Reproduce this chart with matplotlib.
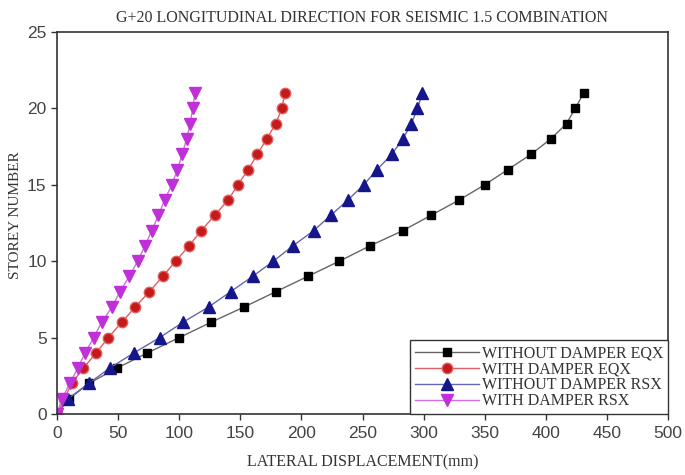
import matplotlib
matplotlib.use("Agg")
import matplotlib.pyplot as plt

storeys = list(range(0, 22))

# lateral displacement (mm) at each storey, 0..21
without_damper_eqx = [0, 10, 26, 49, 74, 100, 126, 153, 179, 205, 231, 256, 283, 306,
                      329, 350, 369, 388, 404, 417, 424, 431]
with_damper_eqx = [0, 6, 12, 21.5, 32, 42, 53, 64, 75.5, 86.5, 97, 108, 118, 129,
                   140, 148, 156.5, 164, 171.5, 179, 184, 186.5]
without_damper_rsx = [0, 9, 26, 43, 63, 84, 103, 124, 142, 160, 177, 193, 210, 224,
                      238, 251, 262, 274, 283, 290, 295, 299]
with_damper_rsx = [0, 4, 10.5, 17, 23, 30, 36.5, 45, 51.5, 59, 66, 72, 77.5, 83,
                   88, 94, 98.5, 102.5, 106, 109, 111, 113]

x_ticks = [0, 50, 100, 150, 200, 250, 300, 350, 400, 450, 500]
y_ticks = [0, 5, 10, 15, 20, 25]

serif = ['Liberation Serif', 'DejaVu Serif']
sans = ['Liberation Sans', 'DejaVu Sans']

fig = plt.figure(figsize=(6.85, 4.75), dpi=100)
ax = fig.add_axes([57 / 685, 1 - 414 / 475, (668 - 57) / 685, (414 - 32) / 475])

ax.plot(without_damper_eqx, storeys, '-s', color='#666666', lw=1.0,
        mfc='black', mec='black', ms=6, label='WITHOUT DAMPER EQX')
ax.plot(with_damper_eqx, storeys, '-o', color='#e06060', lw=1.0,
        mfc='#c41a1a', mec='#e06060', ms=7.5, label='WITH DAMPER EQX')
ax.plot(without_damper_rsx, storeys, '-^', color='#6666aa', lw=1.0,
        mfc='#15158c', mec='#15158c', ms=8, label='WITHOUT DAMPER RSX')
ax.plot(with_damper_rsx, storeys, '-v', color='#d070e0', lw=1.0,
        mfc='#c030d8', mec='#c030d8', ms=8, label='WITH DAMPER RSX')

ax.set_xlim(0, 500)
ax.set_ylim(0, 25)
ax.set_xticks(x_ticks)
ax.set_yticks(y_ticks)
ax.tick_params(direction='out', length=4, width=1, colors='#333333', labelsize=12.5)
ax.tick_params(axis='x', pad=5)
for lbl in ax.get_xticklabels() + ax.get_yticklabels():
    lbl.set_family(sans)
    lbl.set_color('#444444')
for sp in ax.spines.values():
    sp.set_color('#333333')
    sp.set_linewidth(1.2)

ax.set_xlabel('LATERAL DISPLACEMENT(mm)', family=serif, fontsize=11.5, color='#333333')
ax.xaxis.labelpad = 9
ax.set_ylabel('STOREY NUMBER', family=serif, fontsize=11, color='#333333')
ax.yaxis.set_label_coords(-0.058, 0.52)
ax.set_title('G+20 LONGITUDINAL DIRECTION FOR SEISMIC 1.5 COMBINATION',
             family=serif, fontsize=11.5, color='#333333', pad=7)

leg = ax.legend(loc='lower right', prop={'family': serif, 'size': 11.5},
                fancybox=False, framealpha=1, edgecolor='#333333',
                borderaxespad=0, handlelength=4, labelspacing=0.0,
                borderpad=0.3, handletextpad=0.2)
leg.get_frame().set_linewidth(1.0)
for t in leg.get_texts():
    t.set_color('#333333')

fig.savefig('out.png', dpi=100)
